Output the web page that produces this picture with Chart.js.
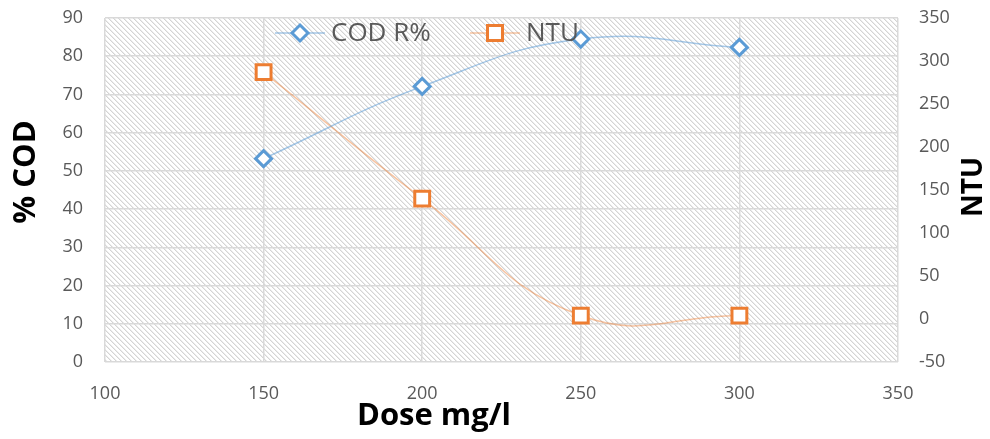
<!DOCTYPE html>
<html>
<head>
<meta charset="utf-8">
<script src="https://cdn.jsdelivr.net/npm/chart.js@4/dist/chart.umd.min.js"></script>
<style>
  html, body { margin:0; padding:0; background:#fff; }
  #wrap { width:990px; height:439px; position:relative; }
</style>
</head>
<body>
<div id="wrap"><canvas id="chart"></canvas></div>
<script>
// Data
const doses = [150, 200, 250, 300];
const codRemoval = [53.2, 72.1, 84.5, 82.3];
const ntuValues = [287, 140, 4, 4];
const seriesNames = ['COD R%', 'NTU'];
const xTitle = 'Dose mg/l';
const yLeftTitle = '% COD';
const yRightTitle = 'NTU';

const BLUE = '#5b9bd5', BLUE_LINE = 'rgba(91,155,213,0.55)';
const ORANGE = '#ed7d31', ORANGE_LINE = 'rgba(237,125,49,0.45)';
const TICK = '#595959', GRID = '#d9d9d9';

// diagonal hatch used as plot background (period 5px, soft 2px stripe)
function makeHatch(){
  const n = 5;
  const c = document.createElement('canvas'); c.width = n; c.height = n;
  const g = c.getContext('2d');
  const img = g.createImageData(n, n);
  for (let y=0;y<n;y++) for (let x=0;x<n;x++){
    const i = (y*n+x)*4;
    const k = ((x - y) % n + n) % n;
    const v = k === 0 ? 212 : (k === 1 ? 236 : 255);
    img.data[i]=v; img.data[i+1]=v; img.data[i+2]=v; img.data[i+3]=255;
  }
  g.putImageData(img, 0, 0);
  return c;
}

const hatchBg = {
  id: 'hatchBg',
  beforeDraw(chart){
    const { ctx, chartArea:a } = chart;
    ctx.save();
    ctx.fillStyle = '#fff';
    ctx.fillRect(0, 0, chart.width, chart.height);
    ctx.fillStyle = ctx.createPattern(makeHatch(), 'repeat');
    ctx.fillRect(a.left, a.top, a.right - a.left, a.bottom - a.top);
    ctx.restore();
  }
};

function marker(ctx, style, x, y){
  ctx.save();
  ctx.lineWidth = 3;
  ctx.fillStyle = '#fff';
  ctx.beginPath();
  if (style === 'rectRot'){
    const r = 8;
    ctx.moveTo(x, y-r); ctx.lineTo(x+r, y); ctx.lineTo(x, y+r); ctx.lineTo(x-r, y); ctx.closePath();
    ctx.strokeStyle = BLUE;
  } else {
    const h = 7.5;
    ctx.rect(x-h, y-h, 2*h, 2*h);
    ctx.strokeStyle = ORANGE;
  }
  ctx.fill(); ctx.stroke();
  ctx.restore();
}

// legend drawn inside the plot, Excel-style (line + marker + text)
const excelLegend = {
  id: 'excelLegend',
  afterDraw(chart){
    const { ctx } = chart;
    const items = [
      { text: seriesNames[0], style: 'rectRot', line: BLUE_LINE, x: 275 },
      { text: seriesNames[1], style: 'rect', line: ORANGE_LINE, x: 470 }
    ];
    const y = 33;
    ctx.save();
    ctx.font = '26px "Open Sans"';
    ctx.textBaseline = 'middle';
    items.forEach(it => {
      ctx.strokeStyle = it.line; ctx.lineWidth = 1.5;
      ctx.beginPath(); ctx.moveTo(it.x, y); ctx.lineTo(it.x + 50, y); ctx.stroke();
      marker(ctx, it.style, it.x + 25, y);
      ctx.fillStyle = TICK;
      ctx.fillText(it.text, it.x + 56, y + 1);
    });
    ctx.restore();
  }
};

// axis titles placed where Excel put them (all read bottom-to-top on the sides)
const axisTitles = {
  id: 'axisTitles',
  afterDraw(chart){
    const { ctx } = chart;
    const put = (text, x, y, rot, size) => {
      ctx.save();
      ctx.translate(x, y);
      ctx.rotate(rot);
      ctx.font = 'bold ' + size + 'px "Open Sans"';
      ctx.fillStyle = '#000';
      ctx.textAlign = 'center';
      ctx.textBaseline = 'middle';
      ctx.fillText(text, 0, 0);
      ctx.restore();
    };
    put(yLeftTitle, 26, 172, -Math.PI/2, 31);
    put(xTitle, 434, 416, 0, 31);
    put(yRightTitle, 974, 187, -Math.PI/2, 28);
  }
};

const tickFont = { family: 'Open Sans', size: 18 };
// vertical scales: keep their label padding from pushing the plot down
const noPad = s => { s.paddingTop = 0; s.paddingBottom = 0; };

new Chart(document.getElementById('chart'), {
  type: 'line',
  data: {
    datasets: [
      {
        label: seriesNames[0],
        data: doses.map((d,i)=>({ x:d, y:codRemoval[i] })),
        yAxisID: 'y',
        borderColor: BLUE_LINE, borderWidth: 1.5,
        pointStyle: 'rectRot', pointRadius: 8, pointBorderWidth: 3,
        pointBorderColor: BLUE, pointBackgroundColor: '#fff',
        tension: 0.45
      },
      {
        label: seriesNames[1],
        data: doses.map((d,i)=>({ x:d, y:ntuValues[i] })),
        yAxisID: 'y1',
        borderColor: ORANGE_LINE, borderWidth: 1.5,
        pointStyle: 'rect', pointRadius: 10.5, pointBorderWidth: 3,
        pointBorderColor: ORANGE, pointBackgroundColor: '#fff',
        tension: 0.45
      }
    ]
  },
  options: {
    responsive: true,
    maintainAspectRatio: false,
    animation: false,
    layout: { padding: { top: 18, left: 0, right: 0, bottom: 0 } },
    plugins: { legend: { display:false }, tooltip: { enabled:false } },
    scales: {
      x: {
        type: 'linear', min: 100, max: 350,
        afterFit: s => { s.height = 77; s.paddingLeft = 0; s.paddingRight = 0; },
        ticks: { stepSize: 50, color: TICK, font: tickFont, padding: 21 },
        grid: { color: GRID, lineWidth: 1.5, drawTicks: false },
        border: { display: false }
      },
      y: {
        position: 'left', min: 0, max: 90,
        afterFit: s => { s.width = 105; noPad(s); },
        ticks: { stepSize: 10, color: TICK, font: tickFont, padding: 22 },
        grid: { color: GRID, lineWidth: 1.5, drawTicks: false },
        border: { display: false }
      },
      y1: {
        position: 'right', min: -50, max: 350,
        afterFit: s => { s.width = 92; noPad(s); },
        ticks: { stepSize: 50, color: TICK, font: tickFont, padding: 21 },
        grid: { drawOnChartArea: false, drawTicks: false },
        border: { display: false }
      }
    }
  },
  plugins: [hatchBg, excelLegend, axisTitles]
});
</script>
</body>
</html>
